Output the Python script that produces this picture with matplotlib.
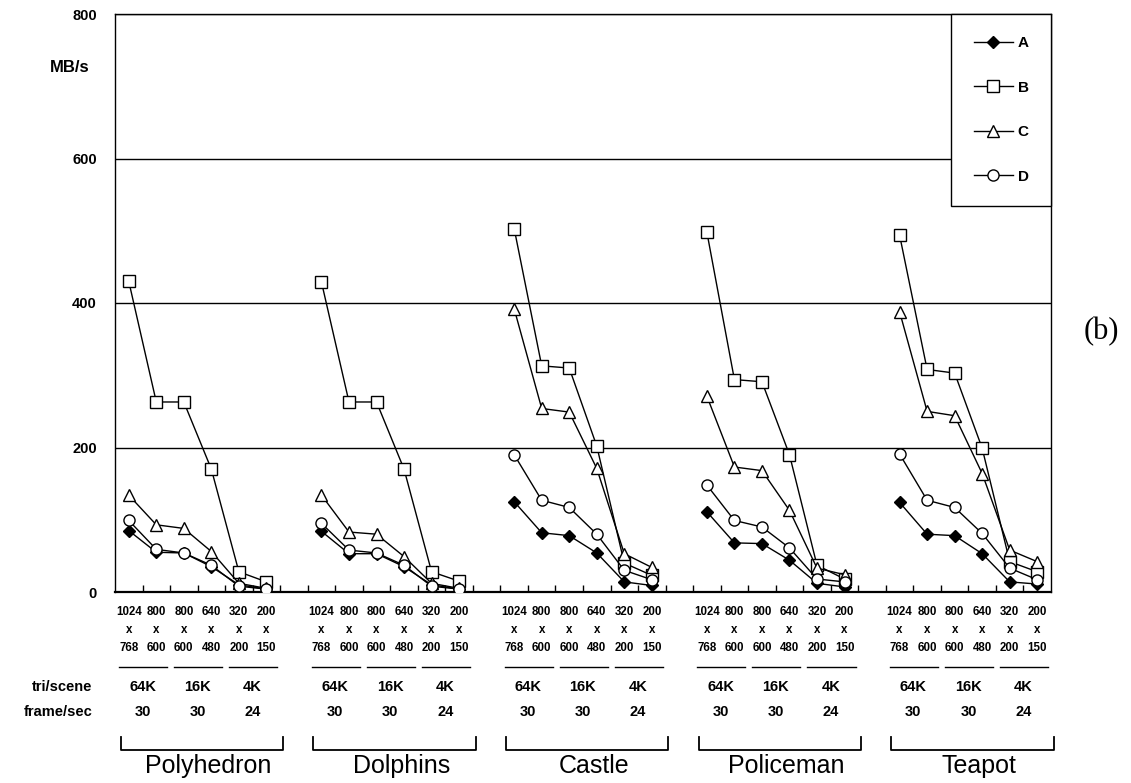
import matplotlib
matplotlib.use('Agg')
import matplotlib.pyplot as plt
import matplotlib.transforms as mtransforms
import numpy as np

# values, MB/s, 6 resolutions per scene
scenes = ['Polyhedron', 'Dolphins', 'Castle', 'Policeman', 'Teapot']
res_w = ['1024', '800', '800', '640', '320', '200']
res_h = ['768', '600', '600', '480', '200', '150']
tri_labels = ['64K', '16K', '4K']
fps_labels = ['30', '30', '24']

A = [[85, 55, 54, 35, 10, 4],
     [84, 53, 53, 35, 10, 4],
     [125, 82, 78, 54, 14, 9],
     [111, 68, 67, 44, 12, 7],
     [124, 80, 78, 53, 14, 11]]
B = [[430, 263, 263, 170, 28, 14],
     [429, 263, 263, 170, 28, 15],
     [503, 313, 310, 202, 40, 23],
     [498, 294, 291, 190, 37, 18],
     [494, 308, 303, 199, 42, 28]]
C = [[134, 93, 88, 56, 12, 5],
     [134, 83, 80, 49, 12, 5],
     [392, 254, 249, 171, 53, 34],
     [271, 173, 168, 113, 33, 24],
     [388, 250, 244, 164, 58, 42]]
D = [[99, 59, 54, 37, 8, 4],
     [95, 58, 54, 37, 8, 4],
     [190, 127, 117, 80, 30, 17],
     [148, 99, 90, 61, 18, 14],
     [191, 127, 117, 81, 33, 17]]

series = [('A', A, dict(marker='D', ms=6.5, mfc='black')),
          ('B', B, dict(marker='s', ms=9, mfc='white')),
          ('C', C, dict(marker='^', ms=9, mfc='white')),
          ('D', D, dict(marker='o', ms=8, mfc='white'))]

W, H = 1131, 783
fig = plt.figure(figsize=(W / 100, H / 100), dpi=100)
ax = fig.add_axes([115 / W, 1 - 592 / H, (1051 - 115) / W, (592 - 14) / H])

GAP = 7  # 6 points + one empty slot per scene
nres = len(res_w)

handles = []
for name, data, style in series:
    for g, vals in enumerate(data):
        x = g * GAP + np.arange(nres)
        ln, = ax.plot(x, vals, color='black', lw=1, mec='black', mew=1,
                      zorder=3, **style)
    handles.append(ln)

ax.set_xlim(-0.5, len(scenes) * GAP - 1.5)
ax.set_ylim(0, 800)

#y axis
ax.set_yticks([0, 200, 400, 600, 800])
ax.set_yticklabels(['0', '200', '400', '600', '800'],
                   family='Liberation Sans', weight='bold', size=10.5)
ax.tick_params(axis='y', length=0, pad=13)
ax.yaxis.grid(True, color='black', lw=1)
ax.set_axisbelow(True)

#x axis: resolution labels under each point
xt = [g * GAP + i for g in range(len(scenes)) for i in range(nres)]
xl = [res_w[i] + '\nx\n' + res_h[i] for g in range(len(scenes)) for i in range(nres)]
ax.set_xticks(xt)
ax.set_xticklabels(xl, family='Liberation Sans', weight='bold', size=8.3,
                   linespacing=1.68)
ax.tick_params(axis='x', which='major', length=0, pad=10)
ax.set_xticks(np.arange(0.5, len(scenes) * GAP - 1.5, 1), minor=True)
ax.tick_params(axis='x', which='minor', direction='in', length=5, width=1)

for s in ax.spines.values():
    s.set_color('black')
    s.set_linewidth(1)
ax.spines['bottom'].set_linewidth(1.6)

leg = ax.legend(handles, [s[0] for s in series], loc='upper right',
                bbox_to_anchor=(1, 1), borderaxespad=0, fancybox=False,
                edgecolor='black', framealpha=1, handlelength=2.6,
                handletextpad=0.3, labelspacing=2.0, borderpad=1.45,
                prop=dict(family='Liberation Sans', weight='bold', size=11))
leg.get_frame().set_linewidth(1)

# table under the axis
tr = mtransforms.blended_transform_factory(ax.transData, fig.transFigure)
def fy(px):
    return 1 - px / H

for g, scene in enumerate(scenes):
    x0 = g * GAP
    for p in range(3):
        ax.plot([x0 + 2 * p - 0.35, x0 + 2 * p + 1.4], [fy(667)] * 2,
                color='black', lw=1, transform=tr, clip_on=False)
        ax.text(x0 + 2 * p + 0.5, fy(687), tri_labels[p], transform=tr,
                ha='center', va='center', weight='bold', size=10.5,
                family='Liberation Sans')
        ax.text(x0 + 2 * p + 0.5, fy(712), fps_labels[p], transform=tr,
                ha='center', va='center', weight='bold', size=10.5,
                family='Liberation Sans')
    bl, br = x0 - 0.3, x0 + 5.6
    ax.plot([bl, bl, br, br], [fy(737), fy(750), fy(750), fy(737)],
            color='black', lw=1.3, transform=tr, clip_on=False)
    ax.text(x0 + 2.9, fy(766), scene, transform=tr, ha='center',
            va='center', size=18, family='Liberation Sans')

fig.text(92 / W, fy(687), 'tri/scene', ha='right', va='center',
         weight='bold', size=10.5, family='Liberation Sans')
fig.text(92 / W, fy(712), 'frame/sec', ha='right', va='center',
         weight='bold', size=10.5, family='Liberation Sans')
fig.text(70 / W, fy(68), 'MB/s', ha='center', va='center',
         weight='bold', size=12, family='Liberation Sans')
fig.text(1101 / W, fy(332), '(b)', ha='center', va='center',
         size=22, family='Liberation Serif')

fig.savefig('out.png', dpi=100)
